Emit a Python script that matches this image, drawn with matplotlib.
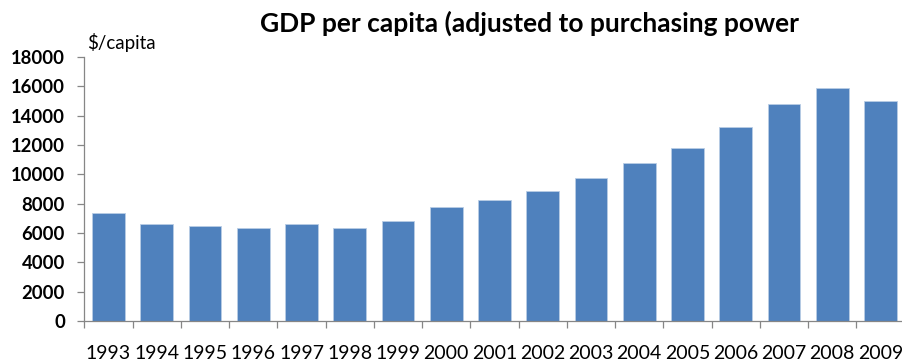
import matplotlib
matplotlib.use("Agg")
import matplotlib.pyplot as plt
import numpy as np

# GDP per capita
years = [1993, 1994, 1995, 1996, 1997, 1998, 1999, 2000, 2001,
         2002, 2003, 2004, 2005, 2006, 2007, 2008, 2009]
gdp = [7350, 6600, 6480, 6310, 6590, 6310, 6840, 7800, 8230,
       8840, 9730, 10750, 11800, 13200, 14780, 15900, 14980]
yticks = [0, 2000, 4000, 6000, 8000, 10000, 12000, 14000, 16000, 18000]

plt.rcParams['font.family'] = ['Lato', 'DejaVu Sans']

fig = plt.figure(figsize=(9.02, 3.61), dpi=100)
# axes placed in figure pixels: x 84.4..904.6, y 57..321 (from top)
ax = fig.add_axes([84.4 / 902, 40 / 361, 820.2 / 902, 264 / 361])

x = np.arange(len(years))
ax.bar(x, gdp, width=0.68, color='#4F81BD', edgecolor='#B9CDE5',
       linewidth=0.6, zorder=2)

ax.set_xlim(-0.5, len(years) - 0.5)
ax.set_ylim(0, 18000)
ax.set_yticks(yticks)
ax.set_yticklabels([str(v) for v in yticks], fontsize=13.3, fontweight='bold')

ax.set_xticks(x)
ax.set_xticklabels([str(y) for y in years], fontsize=14)
ax.set_xticks(np.arange(len(years) + 1) - 0.5, minor=True)
ax.tick_params(axis='x', which='major', length=0, pad=17)
ax.tick_params(axis='x', which='minor', length=5, color='#868686', width=0.9)
ax.tick_params(axis='y', length=5, color='#868686', width=0.9, pad=9)

for side in ['top', 'right']:
    ax.spines[side].set_visible(False)
for side in ['left', 'bottom']:
    ax.spines[side].set_color('#868686')
    ax.spines[side].set_linewidth(0.9)

fig.text(530 / 902, 1 - 23 / 361, 'GDP per capita (adjusted to purchasing power',
         ha='center', va='center', fontsize=19, fontweight='bold')
fig.text(87 / 902, 1 - 42 / 361, '$/capita', ha='left', va='center', fontsize=13.5)

fig.savefig('out.png', dpi=100)
